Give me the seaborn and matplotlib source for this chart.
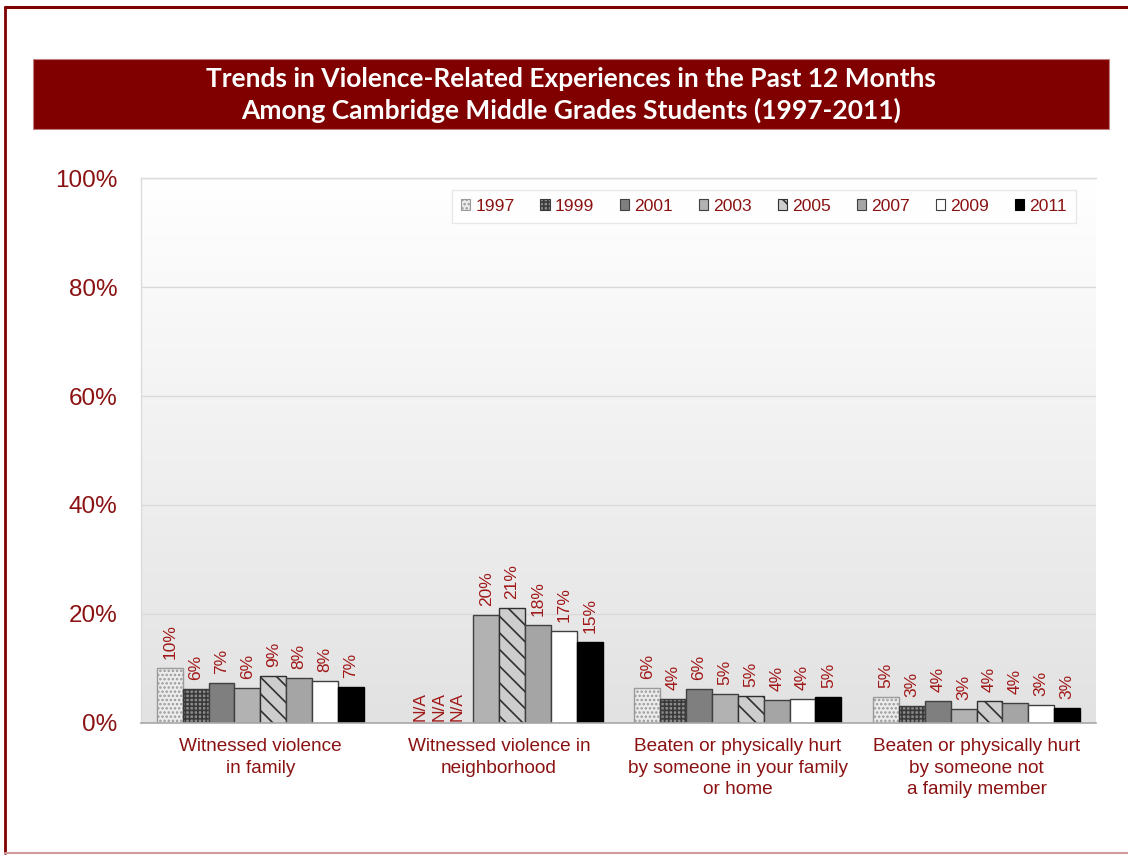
import numpy as np
import pandas as pd
import matplotlib
matplotlib.use('Agg')
import matplotlib.pyplot as plt
from matplotlib.patches import Patch, Rectangle
from matplotlib.lines import Line2D
import seaborn as sns

categories = [
    'Witnessed violence\nin family',
    'Witnessed violence in\nneighborhood',
    'Beaten or physically hurt\nby someone in your family\nor home',
    'Beaten or physically hurt\nby someone not\na family member',
]
years = ['1997', '1999', '2001', '2003', '2005', '2007', '2009', '2011']

# percent values per year, one per category (NaN = N/A)
v1997 = [10.1, np.nan, 6.4, 4.8]
v1999 = [6.2, np.nan, 4.4, 3.1]
v2001 = [7.4, np.nan, 6.2, 4.0]
v2003 = [6.4, 19.8, 5.3, 2.6]
v2005 = [8.6, 21.1, 4.9, 4.0]
v2007 = [8.3, 18.0, 4.2, 3.7]
v2009 = [7.7, 16.9, 4.4, 3.3]
v2011 = [6.6, 14.9, 4.8, 2.8]
values = [v1997, v1999, v2001, v2003, v2005, v2007, v2009, v2011]

yticks = [0, 20, 40, 60, 80, 100]
title = ('Trends in Violence-Related Experiences in the Past 12 Months\n'
         'Among Cambridge Middle Grades Students (1997-2011)')

# styles per year: facecolor, hatch, hatch/edge color
faces = ['#ececec', '#8c8c8c', '#7f7f7f', '#b2b2b2', '#cdcdcd', '#a5a5a5', '#ffffff', '#000000']
hatches = ['....', '++++', '', '', '\\\\', '', '', '']
edges = ['#9a9a9a', '#3a3a3a', '#404040', '#404040', '#303030', '#404040', '#404040', '#000000']

RED = '#8b1212'
LABEL_RED = '#a01818'

rows = []
for y, vals in zip(years, values):
    for c, v in zip(categories, vals):
        rows.append({'category': c, 'year': y, 'value': v})
df = pd.DataFrame(rows)

sns.set_theme(style='white')
plt.rcParams['font.family'] = ['Liberation Sans', 'DejaVu Sans']
plt.rcParams['hatch.linewidth'] = 1.2

fig = plt.figure(figsize=(11.28, 8.55), dpi=100)
ax = fig.add_axes([0.125, 0.1544, 0.8466, 0.6374])

sns.barplot(data=df, x='category', y='value', hue='year', order=categories,
            hue_order=years, palette=faces, width=0.867, gap=0,
            edgecolor='#404040', linewidth=1, saturation=1, legend=False, ax=ax)

for i, cont in enumerate(ax.containers):
    for p in cont.patches:
        p.set_facecolor(faces[i])
        p.set_edgecolor(edges[i])
        if hatches[i]:
            p.set_hatch(hatches[i])
        p.set_zorder(2)
    labels = ['' if np.isnan(v) else f'{v:.0f}%' for v in cont.datavalues]
    ax.bar_label(cont, labels=labels, rotation=90, padding=6.5, color=LABEL_RED,
                 fontsize=12.5)

# N/A labels for missing years in neighborhood group
na_x = 0.671
for i, y in enumerate(years):
    if np.isnan(values[i][1]):
        ax.text(na_x + i * 0.0775, 0.3, 'N/A', rotation=90, ha='center', va='bottom',
                color=LABEL_RED, fontsize=12.5)

# gradient background
grad = np.linspace(1.0, 0.0, 256).reshape(-1, 1)
cmap = matplotlib.colors.LinearSegmentedColormap.from_list('bg', ['#e2e2e2', '#ffffff'])
ax.imshow(grad, extent=[0, 1, 0, 1], transform=ax.transAxes, aspect='auto',
          cmap=cmap, zorder=0, origin='upper')
ax.set_xlim(-0.5, 3.5)
ax.set_ylim(0, 100)

ax.set_yticks(yticks)
ax.set_yticklabels([f'{t}%' for t in yticks], color=RED, fontsize=17.5)
ax.tick_params(axis='y', length=0, pad=17)
ax.tick_params(axis='x', length=0, pad=11, labelsize=13.7, labelcolor=RED)
ax.set_xticks(range(len(categories)))
ax.set_xticklabels(categories, linespacing=1.35)
ax.set_xlabel('')
ax.set_ylabel('')
for t in yticks[1:]:
    ax.axhline(t, color='#d9d9d9', lw=1, zorder=0.5)
for s in ['top', 'left', 'right']:
    ax.spines[s].set_color('#dcdcdc')
    ax.spines[s].set_linewidth(1)
ax.spines['right'].set_visible(False)
ax.spines['bottom'].set_color('#a8a8a8')
ax.spines['bottom'].set_linewidth(1.2)

handles = [Patch(facecolor=faces[i], edgecolor=edges[i], hatch=hatches[i], lw=0.8)
           for i in range(len(years))]
leg = ax.legend(handles, years, loc='upper right', bbox_to_anchor=(0.979, 0.978),
                ncol=8, fontsize=12.6, handlelength=0.55, handleheight=0.55,
                handletextpad=0.3, columnspacing=1.45, frameon=True, fancybox=False,
                borderaxespad=0, borderpad=0.5, labelcolor=RED)
leg.get_frame().set_edgecolor('#e3e3e3')
leg.get_frame().set_facecolor('white')
leg.get_frame().set_linewidth(1)

# title bar
fig.patches.append(Rectangle((0.0293, 0.849), 0.954, 0.0819, transform=fig.transFigure,
                             facecolor='#800000', edgecolor='#c08080', lw=0.8, zorder=0))
fig.text(0.506, 0.889, title, ha='center', va='center', color='white',
         fontsize=19, fontweight='bold', family=['Lato', 'DejaVu Sans'], linespacing=1.28)

# frame border
fig.add_artist(Line2D([5 / 1128, 5 / 1128], [1 - 7 / 855, 1 - 853 / 855],
                      transform=fig.transFigure, color='#800000', lw=2))
fig.add_artist(Line2D([5 / 1128, 1], [1 - 7 / 855, 1 - 7 / 855],
                      transform=fig.transFigure, color='#800000', lw=2.2))
fig.add_artist(Line2D([5 / 1128, 1], [1 - 853 / 855, 1 - 853 / 855],
                      transform=fig.transFigure, color='#d09a9a', lw=1.5))

fig.savefig('out.png', dpi=100)
